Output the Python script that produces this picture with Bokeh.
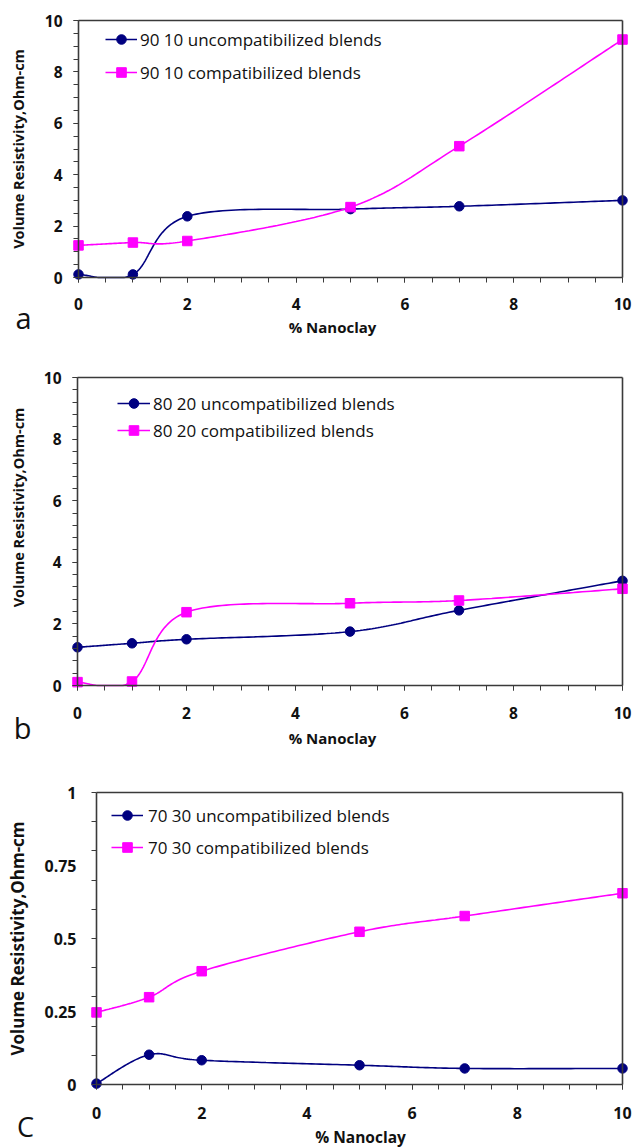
import numpy as np
from bokeh.plotting import figure
from bokeh.layouts import column
from bokeh.models import (Range1d, LinearAxis, FixedTicker, Legend, LegendItem,
                          Label, CustomJSTickFormatter)
from bokeh.embed import file_html
from bokeh.resources import INLINE

# ---------------- data ----------------
nanoclay = [0, 1, 2, 5, 7, 10]

a_uncomp = [0.12, 0.12, 2.38, 2.66, 2.77, 3.00]
a_comp = [1.25, 1.36, 1.42, 2.74, 5.11, 9.26]
b_uncomp = [1.24, 1.37, 1.50, 1.75, 2.44, 3.40]
b_comp = [0.11, 0.13, 2.38, 2.67, 2.76, 3.14]
c_uncomp = [0.003, 0.102, 0.083, 0.066, 0.055, 0.055]
c_comp = [0.247, 0.299, 0.388, 0.523, 0.577, 0.655]

a_labels = ["90 10 uncompatibilized blends", "90 10 compatibilized blends"]
b_labels = ["80 20 uncompatibilized blends", "80 20 compatibilized blends"]
c_labels = ["70 30 uncompatibilized blends", "70 30 compatibilized blends"]

x_major = [0, 2, 4, 6, 8, 10]
a_y_major = [0, 2, 4, 6, 8, 10]
b_y_major = [0, 2, 4, 6, 8, 10]
c_y_major = [0, 0.25, 0.5, 0.75, 1]

y_title = "Volume Resistivity,Ohm-cm"
x_title = "% Nanoclay"

NAVY = "#000080"
PINK = "#FF00FF"
INK = "#111111"
AXC = "#3a3a3a"
FONT = "Open Sans"


def smooth(xs, ys, n=40):
    """Excel-like smoothed line (cubic Bezier through the points)."""
    P = np.column_stack([xs, ys]).astype(float)
    ext = np.vstack([P[0], P, P[-1]])
    t = np.linspace(0, 1, n)[:, None]
    out = []
    for i in range(len(P) - 1):
        p0, p1, p2, p3 = ext[i], ext[i + 1], ext[i + 2], ext[i + 3]
        c1 = p1 + (p2 - p0) / 6.0
        c2 = p2 - (p3 - p1) / 6.0
        seg = ((1 - t) ** 3) * p1 + 3 * ((1 - t) ** 2) * t * c1 + 3 * (1 - t) * (t ** 2) * c2 + (t ** 3) * p2
        out.append(seg if i == 0 else seg[1:])
    S = np.vstack(out)
    return S[:, 0], np.maximum(S[:, 1], 0.0)


fmt = CustomJSTickFormatter(code="return String(Math.round(tick*1000)/1000)")


def panel(cfg):
    fig_top, fig_h = cfg["fig_top"], cfg["fig_h"]
    bl, br, bt, bb = cfg["box"]          # page pixels of the axes box
    ymax = cfg["ymax"]
    xpp = 10.0 / (br - bl)
    ypp = ymax / (bb - bt)
    xr = Range1d(-bl * xpp, 10 + (636 - br) * xpp)
    yr = Range1d(-(fig_top + fig_h - bb) * ypp, ymax + (bt - fig_top) * ypp)

    p = figure(width=636, height=fig_h, x_range=xr, y_range=yr,
               output_backend="svg", toolbar_location=None,
               min_border_left=0, min_border_right=0,
               min_border_top=0, min_border_bottom=0)
    p.outline_line_color = None
    p.xgrid.visible = False
    p.ygrid.visible = False
    p.background_fill_color = "white"
    p.border_fill_color = "white"

    def px_x(px):
        return (px - bl) * xpp

    def px_y(py):
        return ymax - (py - bt) * ypp

    # axes drawn at the data box
    xa = p.xaxis[0]
    xa.fixed_location = 0
    xa.bounds = (0, 10)
    xa.ticker = FixedTicker(ticks=x_major, minor_ticks=list(np.arange(0, 10.01, 0.5)))
    ya = p.yaxis[0]
    ya.fixed_location = 0
    ya.bounds = (0, ymax)
    ya.ticker = FixedTicker(ticks=cfg["y_major"], minor_ticks=cfg["y_minor"])
    for ax in (xa, ya):
        ax.formatter = fmt
        ax.axis_line_color = AXC
        ax.axis_line_width = 1.6
        ax.major_tick_line_color = AXC
        ax.minor_tick_line_color = AXC
        ax.major_tick_in = 0
        ax.minor_tick_in = 0
        ax.major_tick_out = 5
        ax.minor_tick_out = 5
        ax.major_label_text_font = FONT
        ax.major_label_text_font_style = "bold"
        ax.major_label_text_font_size = cfg["tick_fs"]
        ax.major_label_text_color = INK
    ya.major_label_standoff = cfg["ystand"]
    xa.major_label_standoff = cfg["xstand"]
    if cfg.get("no_major_y_tick"):
        ya.major_tick_out = 0

    # top and right border of the box
    for side, loc, bnd in (("right", 10, (0, ymax)), ("above", ymax, (0, 10))):
        ax = LinearAxis(fixed_location=loc, bounds=bnd,
                        ticker=FixedTicker(ticks=[]),
                        axis_line_color=AXC, axis_line_width=1.6,
                        major_tick_out=0, minor_tick_out=0, major_tick_in=0,
                        minor_tick_in=0, major_label_standoff=0,
                        major_label_text_font_size="0px")
        p.add_layout(ax, side)

    # series
    items = []
    for ys, col, marker, lab in ((cfg["u"], NAVY, "circle", cfg["labels"][0]),
                                 (cfg["c"], PINK, "square", cfg["labels"][1])):
        sx, sy = smooth(nanoclay, ys)
        r1 = p.line(sx, sy, line_color=col, line_width=1.6)
        r2 = p.scatter(nanoclay, ys, marker=marker, size=9.5, fill_color=col,
                       line_color=col)
        items.append(LegendItem(label=lab, renderers=[r1, r2]))

    lg = cfg["legend"]
    row_h = 24
    n = 2
    leg_h = n * row_h + (n - 1) * lg["spacing"]
    top_in_fig = lg["row1"] - row_h / 2 - fig_top
    vy = fig_h - top_in_fig - leg_h
    vx = lg["x"]
    legend = Legend(items=items, location=(vx, vy), padding=0, margin=0,
                    spacing=lg["spacing"], glyph_width=lg["gw"], glyph_height=row_h,
                    label_height=row_h, label_standoff=lg["stand"],
                    label_text_font=FONT, label_text_font_size=cfg["leg_fs"],
                    label_text_color=INK, background_fill_alpha=0,
                    border_line_alpha=0)
    p.add_layout(legend, "center")

    # titles
    p.add_layout(Label(x=px_x(cfg["ytitle_x"]), y=px_y((bt + bb) / 2 + cfg.get("ytitle_dy", 0)),
                       text=y_title, angle=np.pi / 2, text_align="center",
                       text_baseline="middle", text_font=FONT, text_font_style="bold",
                       text_font_size=cfg["ytitle_fs"], text_color=INK))
    p.add_layout(Label(x=px_x(cfg["xtitle_x"]), y=px_y(cfg["xtitle_y"]),
                       text=x_title, text_align="center", text_baseline="middle",
                       text_font=FONT, text_font_style="bold",
                       text_font_size=cfg["xtitle_fs"], text_color=INK))
    p.add_layout(Label(x=px_x(cfg["letter_x"]), y=px_y(cfg["letter_mid"]),
                       text=cfg["letter"], text_align="center",
                       text_baseline="middle", text_font=FONT,
                       text_font_size=cfg.get("letter_fs", "29px"), text_color=INK))
    return p


cfg_a = dict(fig_top=0, fig_h=342, box=(78, 622, 20, 277), ymax=10,
             y_major=a_y_major, y_minor=list(np.arange(0, 10.01, 0.5)),
             u=a_uncomp, c=a_comp, labels=a_labels,
             tick_fs="15.5px", leg_fs="17px", ystand=11, xstand=15,
             legend=dict(row1=39, spacing=9, x=105, gw=32, stand=3),
             ytitle_x=18, ytitle_fs="14.5px", xtitle_x=332, xtitle_y=326, xtitle_fs="15px",
             letter="a", letter_x=23, letter_mid=317)
cfg_b = dict(fig_top=342, fig_h=410, box=(77, 622, 377, 685), ymax=10,
             y_major=b_y_major, y_minor=list(np.arange(0, 10.01, 0.4)),
             u=b_uncomp, c=b_comp, labels=b_labels,
             tick_fs="15.5px", leg_fs="17px", ystand=11, xstand=16,
             legend=dict(row1=403, spacing=3, x=117, gw=33, stand=3),
             ytitle_x=18, ytitle_dy=-24, ytitle_fs="14.5px", xtitle_x=332, xtitle_y=737,
             xtitle_fs="15px", letter="b", letter_x=22, letter_mid=727)
cfg_c = dict(fig_top=752, fig_h=396, box=(96, 622, 792, 1084), ymax=1,
             y_major=c_y_major, y_minor=list(np.round(np.arange(0, 1.001, 0.1), 2)),
             u=c_uncomp, c=c_comp, labels=c_labels, no_major_y_tick=True,
             tick_fs="16px", leg_fs="17px", ystand=15, xstand=17,
             legend=dict(row1=815, spacing=8, x=111, gw=32, stand=5),
             ytitle_x=17, ytitle_fs="17px", xtitle_x=360, xtitle_y=1136, xtitle_fs="15.5px",
             letter="C", letter_x=25, letter_mid=1126, letter_fs="27px")

layout = column(panel(cfg_a), panel(cfg_b), panel(cfg_c), spacing=0)

open("out.html", "w").write(file_html(layout, INLINE))
